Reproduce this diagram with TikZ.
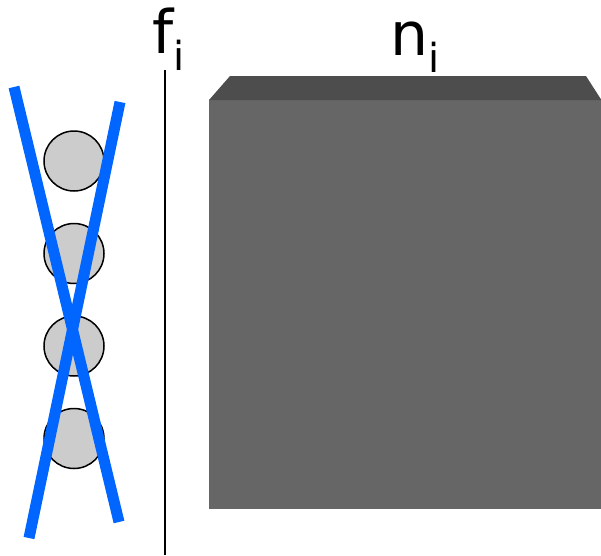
\documentclass[tikz,border=0pt]{standalone}
\usepackage{fontspec}
\setmainfont{DejaVu Sans}
\usetikzlibrary{positioning}
\definecolor{crossblue}{HTML}{0066FF}
\definecolor{frontgray}{HTML}{666666}
\definecolor{topgray}{HTML}{4D4D4D}
\newcommand\lowsub[1]{\raisebox{-17pt}{\fontsize{40}{40}\selectfont #1}}

\begin{document}
\begin{tikzpicture}[
  x=1pt, y=-1pt,
  ball/.style={circle, draw, line width=1.5pt, fill=black!20,
               minimum size=60pt, inner sep=0pt},
  cross/.style={draw=crossblue, line width=11pt},
  lbl/.style={font=\fontsize{60}{60}\selectfont, inner sep=0pt, anchor=base west},
  front/.style={fill=frontgray, minimum width=392pt, minimum height=409pt,
                inner sep=0pt, anchor=north west}
]
\useasboundingbox (0,0) rectangle (601,555);

% Stack of balls
\node[ball] (ball1) at (74,161) {};
\node[ball, below=31pt of ball1] (ball2) {};
\node[ball, below=31pt of ball2] (ball3) {};
\node[ball, below=31pt of ball3] (ball4) {};

% Crossed out
\coordinate (xa1) at (14,87);
\coordinate (xa2) at (119,522);
\coordinate (xb1) at (120,102);
\coordinate (xb2) at (29,538);
\draw[cross] (xa1) -- (xa2);
\draw[cross] (xb1) -- (xb2);

% Divider
\coordinate (divtop) at (165,70);
\coordinate (divbot) at (165,555);
\draw[line width=1.5pt] (divtop) -- (divbot);

% Block
\node[front] (block) at (209,100) {};
\fill[topgray] (block.north west) -- ++(21,-24) -- (586,76) -- (block.north east) -- cycle;

% Labels
\node[lbl] (flbl) at (152,53) {f\lowsub{i}};
\node[lbl] (nlbl) at (390,55) {n\lowsub{i}};
\end{tikzpicture}
\end{document}
